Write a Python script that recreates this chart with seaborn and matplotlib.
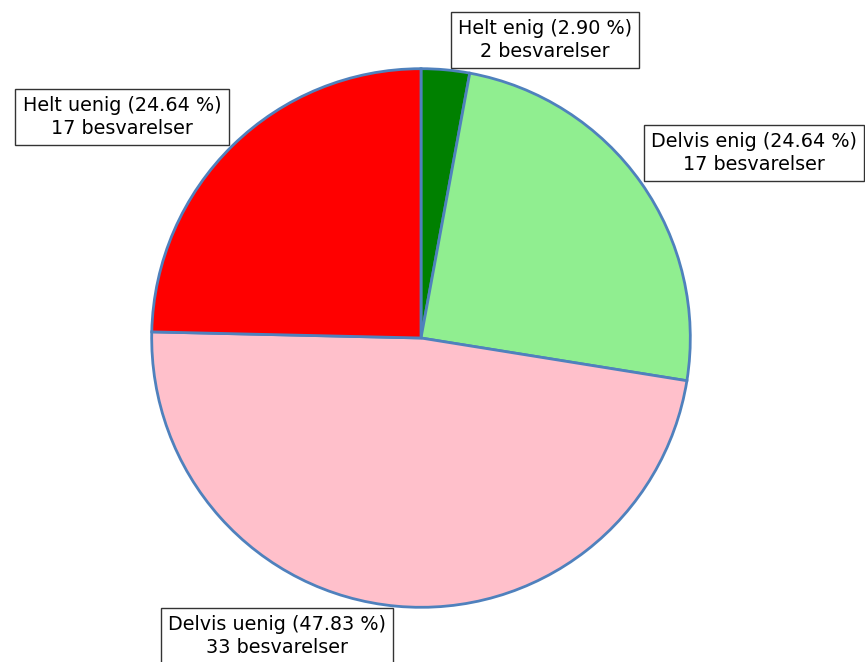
import matplotlib
matplotlib.use("Agg")
import matplotlib.pyplot as plt
import seaborn as sns

categories = ["Helt enig", "Delvis enig", "Delvis uenig", "Helt uenig"]
counts = [2, 17, 33, 17]
colors = ["#008000", "#90ee90", "#ffc0cb", "#ff0000"]
# label box centres in pixels (x from left, y from top)
label_pos = [(545, 40), (754, 153), (277, 636), (122, 117)]

sns.set_theme(style="white")
plt.rcParams['font.family'] = ['DejaVu Sans']

W, H = 865, 662
fig = plt.figure(figsize=(W / 100, H / 100), dpi=100)
fig.patch.set_facecolor("white")

cx, cy, r = 421, 338, 272
ax = fig.add_axes([(cx - r) / W, (H - cy - r) / H, 2 * r / W, 2 * r / H])
ax.pie(counts, colors=colors, startangle=90, counterclock=False, radius=1,
       wedgeprops=dict(edgecolor="#4f81bd", linewidth=2.0))
ax.set_xlim(-1.01, 1.01)
ax.set_ylim(-1.01, 1.01)
ax.set_aspect("auto")
ax.axis("off")

total = sum(counts)
for cat, n, (px, py) in zip(categories, counts, label_pos):
    txt = f"{cat} ({100 * n / total:.2f} %)\n{n} besvarelser"
    fig.text(px / W, 1 - py / H, txt, ha="center", va="center", fontsize=13.8,
             color="black", linespacing=1.25,
             bbox=dict(boxstyle="square,pad=0.38", facecolor="white",
                       edgecolor="#333333", linewidth=1.0))

fig.savefig("out.png", dpi=100, facecolor="white")
